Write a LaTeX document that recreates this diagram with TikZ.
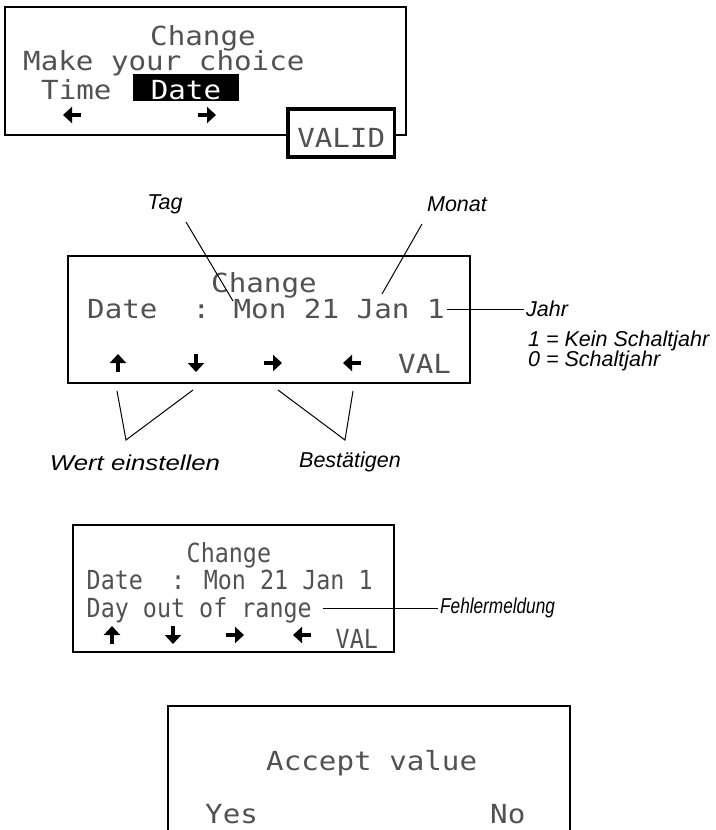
\documentclass[tikz,border=0pt]{standalone}
\usepackage{fontspec}
\usepackage{graphicx}
\usetikzlibrary{arrows.meta}

% display font (monospaced, squeezed a little in height) and annotation font
\newfontfamily\lcdfont{DejaVu Sans Mono}
\newfontfamily\notefont{Liberation Sans}
\newcommand{\lcdtxt}[1]{\scalebox{1}[0.9]{\lcdfont\fontsize{29.2}{30}\selectfont #1}}
\newcommand{\lcdsmall}[1]{\scalebox{0.8}[0.9]{\lcdfont\fontsize{29.2}{30}\selectfont #1}}

\tikzset{
  panel/.style={draw=black, line width=2pt},
  lcd/.style={inner sep=0pt, anchor=base west, text=black!68},
  note/.style={inner sep=2pt, font=\notefont\itshape\fontsize{21.5}{24}\selectfont},
  leader/.style={draw=black, line width=1pt},
  keyarrow/.pic={\draw[line width=3.6pt, -{Triangle[length=9pt,width=16pt]}] (-9,0) -- (9,0);}
}

\begin{document}
\begin{tikzpicture}[x=1pt,y=-1pt]
\useasboundingbox (0,0) rectangle (715,830);
\fill[white] (0,0) rectangle (715,830);

% ---------- panel 1: choice of time or date ----------
\draw[panel] (5,7) rectangle (406,135);
\node[lcd] (p1title) at (150,45) {\lcdtxt{Change}};
\node[lcd] (p1prompt) at (23,70) {\lcdtxt{Make your choice}};
\node[lcd] (p1time) at (41,99) {\lcdtxt{Time}};
\node[lcd, fill=black, text=white, text height=25pt, text depth=2pt] (p1date) at (133,99) {\lcdtxt{\ Date\ }};
\pic[rotate=180] at (72,115) {keyarrow};
\pic at (207,115) {keyarrow};
\node[draw=black, line width=3.5pt, fill=white, anchor=base west, inner xsep=9.5pt, inner ysep=0pt,
      text height=38pt, text depth=10pt, text=black!68] (valid) at (286,147) {\lcdtxt{VALID}};

% ---------- panel 2: date entry ----------
\draw[panel] (68,256) rectangle (470,383);
\node[lcd] (p2title) at (211,292) {\lcdtxt{Change}};
\node[lcd] (p2date) at (87,318) {\lcdtxt{Date\ \ : Mon 21 Jan 1}};
\pic[rotate=90] at (118,363) {keyarrow};
\pic[rotate=-90] at (196,363) {keyarrow};
\pic at (273,363) {keyarrow};
\pic[rotate=180] at (352,363) {keyarrow};
\node[lcd] (p2val) at (398,373) {\lcdtxt{VAL}};

% annotations of panel 2
\node[note] (tag) at (165,204) {Tag};
\coordinate (tagA) at (186,222);
\coordinate (tagB) at (233,301);
\draw[leader] (tagA) -- (tagB);

\node[note] (monat) at (457,204) {Monat};
\coordinate (monA) at (422,224);
\coordinate (monB) at (382,294);
\draw[leader] (monA) -- (monB);

\node[note, anchor=west] (jahr) at (524,309) {Jahr};
\coordinate (jahrA) at (447,309);
\draw[leader] (jahrA) -- (jahr.west);
\node[note, anchor=west] (kein) at (526,341) {1 = Kein Schaltjahr};
\node[note, anchor=west] (schalt) at (526,361) {0 = Schaltjahr};

\node[note] (wert) at (135,463) {\scalebox{1.2}[1]{Wert einstellen}};
\coordinate (upA) at (117,391);
\coordinate (wertA) at (126,440);
\coordinate (downA) at (193,390);
\draw[leader] (upA) -- (wertA) -- (downA);

\node[note] (best) at (350,462) {Bestätigen};
\coordinate (rightA) at (278,390);
\coordinate (bestA) at (345,440);
\coordinate (leftA) at (353,391);
\draw[leader] (rightA) -- (bestA) -- (leftA);

% ---------- panel 3: error message ----------
\draw[panel] (73,525) rectangle (394,652);
\node[lcd] (p3title) at (186.5,562) {\lcdsmall{Change}};
\node[lcd] (p3date) at (86.5,589) {\lcdsmall{Date\ \ : Mon 21 Jan 1}};
\node[lcd] (p3err) at (86.5,617) {\lcdsmall{Day out of range}};
\pic[rotate=90] at (112,635) {keyarrow};
\pic[rotate=-90] at (173,635) {keyarrow};
\pic at (235,635) {keyarrow};
\pic[rotate=180] at (302,635) {keyarrow};
\node[lcd] (p3val) at (335.5,648) {\lcdsmall{VAL}};

\node[note, anchor=west] (fehler) at (438,608) {\scalebox{0.8}[1]{Fehlermeldung}};
\coordinate (errA) at (323,608);
\draw[leader] (errA) -- (fehler.west);

% ---------- panel 4: confirmation ----------
\draw[panel] (168,834) -- (168,706) -- (570,706) -- (570,834);
\node[lcd] (p4title) at (266,770) {\lcdtxt{Accept value}};
\node[lcd] (p4yes) at (205,823) {\lcdtxt{Yes}};
\node[lcd] (p4no) at (490,823) {\lcdtxt{No}};
\end{tikzpicture}
\end{document}
